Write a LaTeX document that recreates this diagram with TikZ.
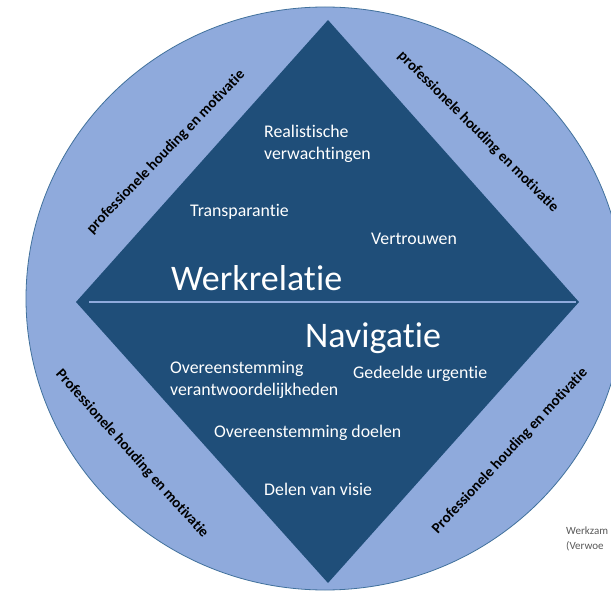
\documentclass[tikz,border=0pt]{standalone}
\usepackage{fontspec}
\setmainfont{Carlito}[Ligatures=NoCommon]
\definecolor{ring}{HTML}{8FAADC}
\definecolor{ringline}{HTML}{41719C}
\definecolor{dia}{HTML}{1F4E79}
\definecolor{sepline}{HTML}{8FAADC}
\definecolor{notegrey}{HTML}{595959}
\begin{document}
\begin{tikzpicture}[x=1pt,y=-1pt,
  innertext/.style={text=white, font=\fontsize{17.8}{22}\selectfont, inner sep=0pt, align=left},
  bigtext/.style={text=white, font=\fontsize{36}{40}\selectfont, inner sep=0pt},
  ringtext/.style={text=black, font=\bfseries\fontsize{15}{16}\selectfont, inner sep=0pt},
  notetext/.style={text=notegrey, font=\fontsize{11}{15}\selectfont, inner sep=0pt, align=left}]
\useasboundingbox (0,0) rectangle (611,596);
\clip (0,0) rectangle (611,596);
\fill[white] (0,0) rectangle (611,596);
\draw[ringline, fill=ring, line width=0.8pt] (325,298.5) ellipse [x radius=299, y radius=291.5];
\coordinate (T) at (328,20);
\coordinate (L) at (76,302);
\coordinate (R) at (579,302);
\coordinate (B) at (328,583);
\fill[dia] (T) -- (R) -- (B) -- (L) -- cycle;
\coordinate (s1) at (89,302);
\coordinate (s2) at (576,302);
\draw[sepline, line width=1.2pt] (s1) -- (s2);

\node[innertext, anchor=west] (realist) at (264,144) {Realistische\\verwachtingen};
\node[innertext, anchor=west] (transp) at (190,212) {Transparantie};
\node[innertext, anchor=west] (vertr) at (371,239) {Vertrouwen};
\node[bigtext, anchor=west] (werk) at (171,278) {Werkrelatie};
\node[bigtext, anchor=west] (nav) at (305,338) {Navigatie};
\node[innertext, anchor=west] (overv) at (170,379.5) {Overeenstemming\\verantwoordelijkheden};
\node[innertext, anchor=west] (urg) at (353,374) {Gedeelde urgentie};
\node[innertext, anchor=west] (doel) at (214,433) {Overeenstemming doelen};
\node[innertext, anchor=west] (visie) at (264,489) {Delen van visie};

\node[ringtext, rotate=46] (r1) at (166,152) {professionele houding en motivatie};
\node[ringtext, rotate=-45] (r2) at (478,132) {professionele houding en motivatie};
\node[ringtext, rotate=-48] (r3) at (132,454) {Professionele houding en motivatie};
\node[ringtext, rotate=47] (r4) at (510,451) {Professionele houding en motivatie};

\node[notetext, anchor=west] (note) at (566,538.5) {Werkzam\\(Verwoe};
\end{tikzpicture}
\end{document}
